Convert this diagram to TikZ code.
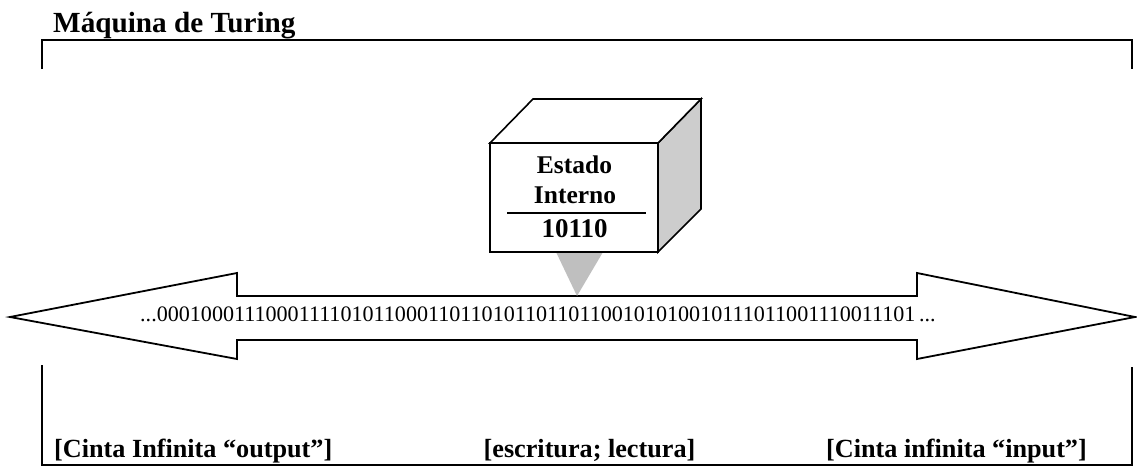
\documentclass[tikz,border=0pt]{standalone}
\usepackage{fontspec}
\setmainfont{Liberation Serif}
\begin{document}
\begin{tikzpicture}[x=1pt,y=-1pt,
  frameline/.style={line width=1.8pt,black},
  tapeline/.style={line width=1.8pt,black,line join=miter},
  cubeline/.style={line width=1.6pt,black,line join=miter},
  boldlabel/.style={font=\bfseries\fontsize{26.2}{28}\selectfont,inner sep=0pt,anchor=base},
  cubetext/.style={font=\bfseries\fontsize{25.5}{27}\selectfont,inner sep=0pt,anchor=base},
]
\useasboundingbox (0,0) rectangle (1137,466);
\fill[white] (0,0) rectangle (1137,466);

% title
\node[font=\bfseries\fontsize{29.2}{31}\selectfont,inner sep=0pt,anchor=base west] (title) at (53,32) {Máquina de Turing};

% frame
\draw[frameline] (42,69) -- (42,40) -- (1132,40) -- (1132,69);
\draw[frameline] (42,365) -- (42,465) -- (1132,465) -- (1132,367);

% tape (double block arrow)
\coordinate (ltip) at (10,317);
\coordinate (rtip) at (1135,317);
\draw[tapeline,fill=white] (ltip) -- (237,273) -- (237,296) -- (917,296) -- (917,273)
  -- (rtip) -- (917,359) -- (917,340) -- (237,340) -- (237,359) -- cycle;
\node[font=\fontsize{22.1}{24}\selectfont,inner sep=0pt,anchor=base west] (tape) at (140,321)
  {...0001000111000111101011000110110101101101100101010010111011001110011101\,...};

% read/write head pointer
\coordinate (headtip) at (577,296);
\fill[gray!50] (556,252) -- (603,252) -- (headtip) -- cycle;

% cube
\draw[cubeline,fill={rgb,255:red,205;green,205;blue,205}] (658,143) -- (701,99) -- (701,209) -- (658,252) -- cycle;
\draw[cubeline,fill=white] (490,143) -- (533,99) -- (701,99) -- (658,143) -- cycle;
\draw[cubeline,fill=white] (490,143) rectangle (658,252);
\node[cubetext] (estado) at (574.5,173) {Estado};
\node[cubetext] (interno) at (575,203) {Interno};
\draw[line width=1.2pt] (507,213) -- (646,213);
\node[font=\bfseries\fontsize{27}{29}\selectfont,inner sep=0pt,anchor=base] (bits) at (574.5,237) {10110};

% bottom labels
\node[boldlabel,anchor=base west] (out) at (54,457) {[Cinta Infinita “output”]};
\node[boldlabel] (rw) at (589.5,457) {[escritura; lectura]};
\node[boldlabel,anchor=base east] (in) at (1087,457) {[Cinta infinita “input”]};
\end{tikzpicture}
\end{document}
